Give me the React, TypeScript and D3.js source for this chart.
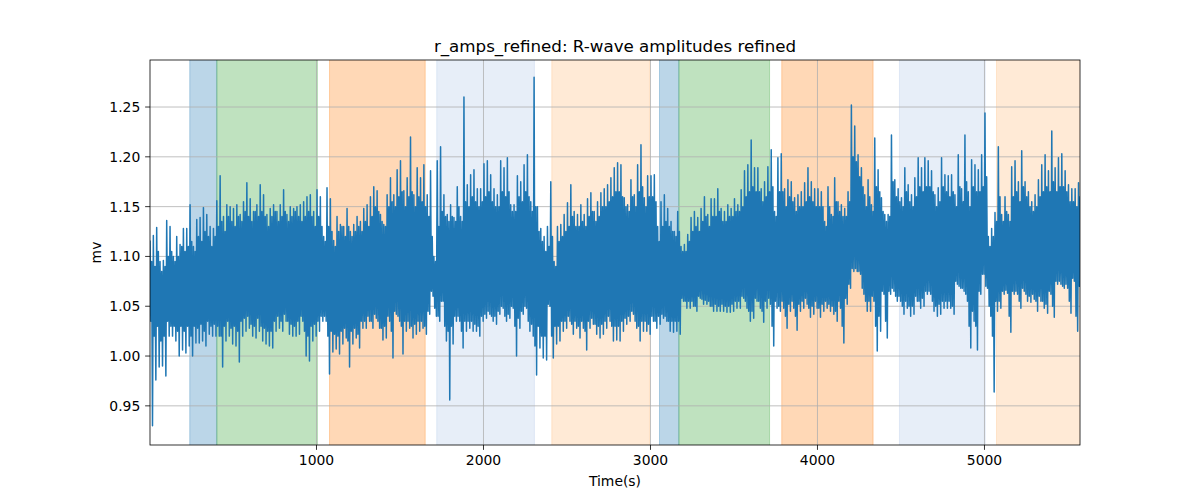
import React from 'react';
import * as d3 from 'd3';

// Per 20 s window: main peak (hi), secondary trough (loB), secondary peak (hiB), main trough (lo)
const hiValues = [
  1.116, 1.121, 1.129, 1.095, 1.096, 1.136, 1.13, 1.10, 1.12, 1.112,
  1.128, 1.128, 1.152, 1.11, 1.137, 1.139, 1.149, 1.142, 1.13, 1.128,
  1.156, 1.181, 1.14, 1.152, 1.15, 1.148, 1.152, 1.142, 1.155, 1.174,
  1.158, 1.145, 1.152, 1.172, 1.162, 1.142, 1.148, 1.152, 1.145, 1.152,
  1.167, 1.142, 1.15, 1.148, 1.15, 1.152, 1.155, 1.16, 1.162, 1.145,
  1.167, 1.16, 1.12, 1.169, 1.158, 1.116, 1.14, 1.132, 1.13, 1.148,
  1.125, 1.132, 1.14, 1.135, 1.148, 1.152, 1.16, 1.17, 1.166, 1.142,
  1.132, 1.162, 1.179, 1.162, 1.187, 1.196, 1.166, 1.179, 1.22, 1.162,
  1.189, 1.179, 1.192, 1.162, 1.186, 1.10, 1.196, 1.21, 1.162, 1.142,
  1.152, 1.139, 1.17, 1.14, 1.26, 1.172, 1.182, 1.187, 1.168, 1.168,
  1.193, 1.196, 1.182, 1.168, 1.162, 1.196, 1.189, 1.199, 1.152, 1.152,
  1.181, 1.175, 1.192, 1.202, 1.155, 1.28, 1.15, 1.128, 1.12, 1.13,
  1.175, 1.095, 1.13, 1.132, 1.142, 1.154, 1.172, 1.145, 1.142, 1.152,
  1.142, 1.158, 1.164, 1.145, 1.155, 1.164, 1.168, 1.172, 1.179, 1.189,
  1.194, 1.192, 1.159, 1.152, 1.177, 1.162, 1.192, 1.212, 1.159, 1.181,
  1.181, 1.182, 1.13, 1.155, 1.162, 1.148, 1.135, 1.125, 1.145, 1.11,
  1.112, 1.122, 1.139, 1.145, 1.139, 1.148, 1.16, 1.142, 1.158, 1.158,
  1.168, 1.148, 1.145, 1.152, 1.148, 1.158, 1.152, 1.167, 1.186, 1.192,
  1.217, 1.189, 1.189, 1.168, 1.175, 1.19, 1.207, 1.145, 1.199, 1.203,
  1.168, 1.177, 1.175, 1.159, 1.162, 1.165, 1.174, 1.189, 1.175, 1.168,
  1.168, 1.165, 1.135, 1.17, 1.142, 1.179, 1.155, 1.152, 1.148, 1.165,
  1.252, 1.231, 1.202, 1.189, 1.162, 1.177, 1.152, 1.219, 1.187, 1.159,
  1.142, 1.142, 1.222, 1.177, 1.168, 1.159, 1.189, 1.172, 1.162, 1.179,
  1.199, 1.189, 1.199, 1.196, 1.186, 1.162, 1.169, 1.199, 1.182, 1.181,
  1.182, 1.162, 1.202, 1.168, 1.222, 1.165, 1.197, 1.192, 1.187, 1.202,
  1.244, 1.12, 1.128, 1.144, 1.21, 1.142, 1.16, 1.142, 1.19, 1.196,
  1.175, 1.206, 1.175, 1.165, 1.155, 1.162, 1.177, 1.192, 1.202, 1.186,
  1.226, 1.189, 1.199, 1.203, 1.186, 1.172, 1.168, 1.168, 1.174,
];

const loValues = [
  0.93, 0.976, 0.989, 0.99, 0.98, 1.02, 1.02, 1.015, 1.0, 1.006,
  1.003, 1.01, 1.0, 1.013, 1.013, 1.015, 1.01, 1.022, 1.02, 1.02,
  1.02, 0.989, 1.015, 1.02, 1.012, 1.01, 0.994, 1.02, 1.025, 1.028,
  1.02, 1.018, 1.025, 1.015, 1.012, 1.01, 1.008, 1.025, 1.028, 1.025,
  1.035, 1.022, 1.02, 1.02, 1.022, 1.035, 1.0, 0.995, 1.015, 1.02,
  1.025, 1.035, 1.035, 0.982, 1.004, 1.007, 1.002, 1.012, 1.018, 0.989,
  1.012, 1.018, 1.008, 1.028, 1.028, 1.035, 1.028, 1.038, 1.028, 1.016,
  1.018, 1.035, 0.998, 1.042, 1.035, 1.002, 1.025, 1.028, 1.018, 1.022,
  1.025, 1.028, 1.022, 1.042, 1.06, 1.04, 1.035, 1.055, 1.015, 0.956,
  1.012, 1.035, 1.035, 1.008, 1.025, 1.028, 1.025, 1.025, 1.02, 1.035,
  1.038, 1.042, 1.035, 1.032, 1.042, 1.048, 1.035, 1.038, 1.048, 1.0,
  1.028, 1.042, 1.048, 1.025, 1.02, 0.981, 1.008, 0.998, 0.996, 1.05,
  0.998, 1.012, 1.015, 1.025, 1.028, 1.035, 1.022, 1.028, 1.018, 1.028,
  1.006, 1.028, 1.032, 1.022, 1.018, 1.022, 1.028, 1.035, 1.015, 1.016,
  1.015, 1.025, 1.032, 1.035, 1.042, 1.028, 1.015, 1.025, 1.025, 1.022,
  1.035, 1.028, 1.032, 1.038, 1.035, 1.025, 1.024, 1.025, 1.022, 1.055,
  1.048, 1.048, 1.05, 1.045, 1.058, 1.052, 1.052, 1.05, 1.045, 1.045,
  1.045, 1.045, 1.044, 1.044, 1.045, 1.048, 1.048, 1.058, 1.048, 1.035,
  1.038, 1.055, 1.048, 1.034, 1.048, 1.052, 1.01, 1.048, 1.045, 1.048,
  1.028, 1.045, 1.048, 1.026, 1.045, 1.048, 1.052, 1.039, 1.042, 1.048,
  1.039, 1.045, 1.048, 1.045, 1.042, 1.035, 1.048, 1.013, 1.052, 1.068,
  1.085, 1.085, 1.082, 1.062, 1.045, 1.045, 1.055, 1.005, 1.025, 1.062,
  1.018, 1.062, 1.065, 1.055, 1.055, 1.042, 1.048, 1.04, 1.042, 1.055,
  1.048, 1.05, 1.062, 1.062, 1.045, 1.04, 1.042, 1.048, 1.048, 1.048,
  1.042, 1.072, 1.068, 1.065, 1.055, 1.008, 1.035, 1.006, 1.062, 1.082,
  1.068, 1.04, 0.964, 1.045, 1.048, 1.062, 1.063, 1.024, 1.062, 1.062,
  1.048, 1.065, 1.055, 1.054, 1.057, 1.045, 1.055, 1.048, 1.043, 1.062,
  1.039, 1.072, 1.072, 1.068, 1.068, 1.043, 1.075, 1.025, 1.068,
];

const hiBValues = [
  1.095, 1.09, 1.105, 1.085, 1.09, 1.10, 1.105, 1.095, 1.10, 1.11,
  1.105, 1.11, 1.115, 1.105, 1.12, 1.115, 1.125, 1.12, 1.11, 1.12,
  1.13, 1.135, 1.125, 1.14, 1.135, 1.13, 1.14, 1.135, 1.145, 1.14,
  1.135, 1.145, 1.14, 1.145, 1.14, 1.13, 1.14, 1.145, 1.135, 1.14,
  1.145, 1.135, 1.14, 1.145, 1.14, 1.135, 1.14, 1.145, 1.14, 1.13,
  1.14, 1.13, 1.115, 1.13, 1.125, 1.11, 1.125, 1.13, 1.12, 1.13,
  1.12, 1.125, 1.13, 1.125, 1.135, 1.13, 1.14, 1.15, 1.145, 1.135,
  1.13, 1.15, 1.155, 1.15, 1.16, 1.165, 1.15, 1.16, 1.165, 1.15,
  1.16, 1.155, 1.15, 1.14, 1.12, 1.095, 1.13, 1.145, 1.14, 1.135,
  1.14, 1.135, 1.15, 1.135, 1.155, 1.15, 1.16, 1.155, 1.15, 1.155,
  1.16, 1.165, 1.155, 1.15, 1.15, 1.165, 1.16, 1.165, 1.145, 1.145,
  1.16, 1.155, 1.165, 1.16, 1.145, 1.15, 1.125, 1.115, 1.105, 1.11,
  1.12, 1.09, 1.115, 1.12, 1.125, 1.13, 1.14, 1.13, 1.13, 1.135,
  1.13, 1.14, 1.145, 1.135, 1.14, 1.15, 1.15, 1.155, 1.16, 1.165,
  1.165, 1.16, 1.15, 1.145, 1.16, 1.15, 1.165, 1.17, 1.15, 1.16,
  1.16, 1.155, 1.115, 1.13, 1.135, 1.13, 1.125, 1.12, 1.125, 1.105,
  1.105, 1.115, 1.125, 1.13, 1.125, 1.135, 1.14, 1.13, 1.14, 1.14,
  1.145, 1.135, 1.135, 1.14, 1.14, 1.145, 1.145, 1.15, 1.16, 1.165,
  1.17, 1.165, 1.165, 1.155, 1.16, 1.165, 1.17, 1.14, 1.165, 1.165,
  1.15, 1.16, 1.155, 1.145, 1.15, 1.15, 1.155, 1.16, 1.155, 1.15,
  1.15, 1.15, 1.13, 1.15, 1.14, 1.155, 1.145, 1.14, 1.14, 1.155,
  1.20, 1.195, 1.18, 1.17, 1.15, 1.16, 1.145, 1.17, 1.165, 1.145,
  1.135, 1.14, 1.175, 1.16, 1.155, 1.15, 1.165, 1.155, 1.15, 1.16,
  1.17, 1.165, 1.17, 1.17, 1.165, 1.15, 1.155, 1.17, 1.165, 1.16,
  1.165, 1.15, 1.17, 1.155, 1.175, 1.15, 1.17, 1.165, 1.165, 1.17,
  1.18, 1.11, 1.12, 1.135, 1.16, 1.135, 1.145, 1.135, 1.16, 1.165,
  1.155, 1.17, 1.16, 1.15, 1.145, 1.15, 1.16, 1.165, 1.17, 1.165,
  1.175, 1.165, 1.17, 1.17, 1.165, 1.155, 1.155, 1.15, 1.16,
];

const loBValues = [
  1.035, 1.02, 1.03, 1.015, 1.02, 1.035, 1.03, 1.03, 1.025, 1.03,
  1.025, 1.03, 1.02, 1.03, 1.028, 1.032, 1.025, 1.035, 1.03, 1.032,
  1.03, 1.02, 1.03, 1.035, 1.028, 1.03, 1.025, 1.035, 1.038, 1.04,
  1.032, 1.03, 1.038, 1.03, 1.028, 1.025, 1.025, 1.035, 1.04, 1.035,
  1.042, 1.035, 1.032, 1.03, 1.035, 1.04, 1.025, 1.02, 1.03, 1.032,
  1.035, 1.04, 1.04, 1.02, 1.025, 1.022, 1.02, 1.025, 1.028, 1.015,
  1.025, 1.028, 1.022, 1.035, 1.035, 1.04, 1.035, 1.042, 1.035, 1.028,
  1.03, 1.04, 1.025, 1.045, 1.04, 1.03, 1.035, 1.035, 1.03, 1.032,
  1.035, 1.035, 1.03, 1.045, 1.065, 1.048, 1.04, 1.055, 1.03, 1.025,
  1.03, 1.04, 1.04, 1.025, 1.035, 1.035, 1.035, 1.032, 1.03, 1.04,
  1.042, 1.045, 1.04, 1.04, 1.045, 1.05, 1.04, 1.042, 1.05, 1.03,
  1.038, 1.045, 1.05, 1.035, 1.032, 1.01, 1.03, 1.02, 1.02, 1.052,
  1.02, 1.03, 1.03, 1.035, 1.035, 1.04, 1.032, 1.035, 1.03, 1.035,
  1.025, 1.035, 1.038, 1.032, 1.03, 1.032, 1.035, 1.04, 1.03, 1.03,
  1.03, 1.035, 1.038, 1.04, 1.045, 1.035, 1.03, 1.035, 1.035, 1.032,
  1.04, 1.035, 1.04, 1.042, 1.04, 1.035, 1.035, 1.035, 1.035, 1.058,
  1.055, 1.055, 1.055, 1.05, 1.06, 1.057, 1.056, 1.055, 1.05, 1.052,
  1.05, 1.052, 1.05, 1.05, 1.052, 1.055, 1.055, 1.06, 1.055, 1.045,
  1.045, 1.058, 1.055, 1.045, 1.055, 1.058, 1.03, 1.055, 1.05, 1.055,
  1.04, 1.052, 1.055, 1.04, 1.052, 1.055, 1.058, 1.048, 1.05, 1.055,
  1.048, 1.052, 1.055, 1.052, 1.05, 1.045, 1.055, 1.03, 1.058, 1.072,
  1.088, 1.088, 1.085, 1.068, 1.055, 1.055, 1.06, 1.03, 1.04, 1.065,
  1.035, 1.065, 1.068, 1.06, 1.06, 1.05, 1.055, 1.05, 1.05, 1.06,
  1.055, 1.058, 1.065, 1.065, 1.055, 1.05, 1.052, 1.055, 1.055, 1.055,
  1.05, 1.075, 1.07, 1.068, 1.062, 1.03, 1.045, 1.03, 1.065, 1.082,
  1.07, 1.05, 1.02, 1.055, 1.055, 1.065, 1.066, 1.04, 1.065, 1.065,
  1.055, 1.068, 1.062, 1.06, 1.062, 1.055, 1.06, 1.055, 1.052, 1.065,
  1.05, 1.075, 1.075, 1.07, 1.072, 1.055, 1.078, 1.04, 1.07,
];

const sampleStart = 3; // seconds
const sampleStep = 20; // seconds per window

// shaded segments (seconds) and their kind
const bandStarts = [241, 403, 1078, 1720, 2409, 3054, 3170, 3786, 4491, 5072];
const bandEnds = [403, 1005, 1651, 2305, 2994, 3170, 3713, 4333, 5004, 5580];
const bandKinds = [0, 1, 2, 3, 4, 0, 1, 2, 3, 4];
const bandPalette = ['#1f77b4', '#2ca02c', '#ff7f0e', '#aec7e8', '#ffbb78'];

const xTicks = [1000, 2000, 3000, 4000, 5000];
const yTicks = [0.95, 1.0, 1.05, 1.1, 1.15, 1.2, 1.25];

const W = 1200;
const H = 500;
const M = { left: 150, right: 1080, top: 60, bottom: 445 };
const FONT = 'DejaVu Sans, sans-serif';

export default function App() {
  const x = d3.scaleLinear().domain([3, 5572]).range([M.left, M.right]);
  const y = d3.scaleLinear().domain([0.9107, 1.2972]).range([M.bottom, M.top]);

  const q = sampleStep / 4;
  const pts: [number, number][] = [];
  hiValues.forEach((h, i) => {
    const t = sampleStart + i * sampleStep;
    pts.push([t, h]);
    pts.push([t + q, loBValues[i]]);
    pts.push([t + 2 * q, hiBValues[i]]);
    pts.push([t + 3 * q, loValues[i]]);
  });
  const line = d3
    .line<[number, number]>()
    .x((d) => x(d[0]))
    .y((d) => y(d[1]));

  const tickLen = 4.86;

  return (
    <svg
      width={W}
      height={H}
      style={{ position: 'absolute', left: 0, top: 0, background: '#fff' }}
      fontFamily={FONT}
    >
      <defs>
        <clipPath id="plotclip">
          <rect x={M.left} y={M.top} width={M.right - M.left} height={M.bottom - M.top} />
        </clipPath>
      </defs>
      <rect x={0} y={0} width={W} height={H} fill="#fff" />
      <g clipPath="url(#plotclip)">
        {bandStarts.map((s, i) => {
          const c = bandPalette[bandKinds[i]];
          const x0 = x(s);
          const x1 = x(bandEnds[i]);
          return (
            <rect
              key={i}
              x={x0}
              y={M.top - 2}
              width={x1 - x0}
              height={M.bottom - M.top + 4}
              fill={c}
              fillOpacity={0.3}
              stroke={c}
              strokeOpacity={0.3}
              strokeWidth={1}
            />
          );
        })}
        {xTicks.map((t) => (
          <line key={'gx' + t} x1={x(t)} x2={x(t)} y1={M.top} y2={M.bottom} stroke="#b0b0b0" strokeWidth={0.8} />
        ))}
        {yTicks.map((v) => (
          <line key={'gy' + v} x1={M.left} x2={M.right} y1={y(v)} y2={y(v)} stroke="#b0b0b0" strokeWidth={0.8} />
        ))}
        <path d={line(pts) || ''} fill="none" stroke="#1f77b4" strokeWidth={1.5} strokeLinejoin="round" />
      </g>
      <rect
        x={M.left}
        y={M.top}
        width={M.right - M.left}
        height={M.bottom - M.top}
        fill="none"
        stroke="#000"
        strokeWidth={0.8}
      />
      {xTicks.map((t) => (
        <g key={'tx' + t}>
          <line x1={x(t)} x2={x(t)} y1={M.bottom} y2={M.bottom + tickLen} stroke="#000" strokeWidth={0.8} />
          <text x={x(t)} y={M.bottom + 20} textAnchor="middle" fontSize={13.9} fill="#000">
            {t}
          </text>
        </g>
      ))}
      {yTicks.map((v) => (
        <g key={'ty' + v}>
          <line x1={M.left - tickLen} x2={M.left} y1={y(v)} y2={y(v)} stroke="#000" strokeWidth={0.8} />
          <text x={M.left - 9.7} y={y(v) + 5} textAnchor="end" fontSize={13.9} fill="#000">
            {d3.format('.2f')(v)}
          </text>
        </g>
      ))}
      <text x={(M.left + M.right) / 2} y={M.bottom + 41} textAnchor="middle" fontSize={13.9} fill="#000">
        Time(s)
      </text>
      <text
        transform={`translate(${M.left - 49}, ${(M.top + M.bottom) / 2}) rotate(-90)`}
        textAnchor="middle"
        fontSize={13.9}
        fill="#000"
      >
        mv
      </text>
      <text x={(M.left + M.right) / 2} y={M.top - 8} textAnchor="middle" fontSize={16.7} fill="#000">
        r_amps_refined: R-wave amplitudes refined
      </text>
    </svg>
  );
}
